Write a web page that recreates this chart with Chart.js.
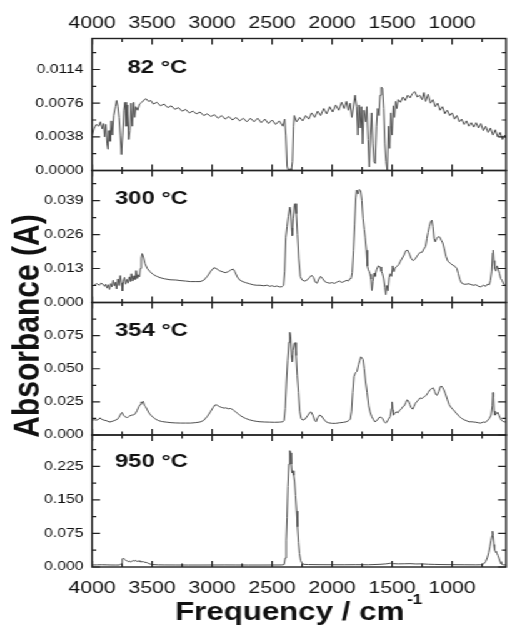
<!DOCTYPE html>
<html>
<head>
<meta charset="utf-8">
<script src="https://cdn.jsdelivr.net/npm/chart.js@4.4.1/dist/chart.umd.min.js"></script>
<style>
  html, body { margin: 0; padding: 0; background: #fff; overflow: hidden; }
  #wrap { position: absolute; left: 0; top: 0; width: 407px; height: 631px;
          transform: scaleX(1.25); transform-origin: 0 0; }
  #wrap canvas { position: absolute; left: 0; top: 0; }
</style>
</head>
<body>
<div id="wrap">
  <canvas id="p1" width="407" height="631"></canvas>
  <canvas id="p2" width="407" height="631"></canvas>
  <canvas id="p3" width="407" height="631"></canvas>
  <canvas id="p4" width="407" height="631"></canvas>
</div>
<script>
// ---- data (wavenumber cm-1, absorbance) ----
const panelLabels = ["82 °C", "300 °C", "354 °C", "950 °C"];
const xTicks = [4000, 3500, 3000, 2500, 2000, 1500, 1000];
const xMinor = [3750, 3250, 2750, 2250, 1750, 1250, 750];

const yTicks82 = [0, 0.0038, 0.0076, 0.0114];
const yTicks300 = [0, 0.013, 0.026, 0.039];
const yTicks354 = [0, 0.025, 0.050, 0.075];
const yTicks950 = [0, 0.075, 0.150, 0.225];

const s82 = [
  [4000,0.0040],[3985,0.0047],[3965,0.0052],[3945,0.0050],[3930,0.0055],[3915,0.0047],[3905,0.0053],
  [3895,0.0038],[3885,0.0052],[3875,0.0030],[3867,0.0024],[3860,0.0045],[3850,0.0033],[3840,0.0056],
  [3830,0.0040],[3820,0.0062],[3805,0.0072],[3795,0.0079],[3785,0.0072],[3775,0.0060],[3765,0.0040],
  [3755,0.0018],[3745,0.0040],[3735,0.0068],[3725,0.0077],[3715,0.0050],[3705,0.0074],[3695,0.0035],
  [3685,0.0045],[3675,0.0076],[3665,0.0050],[3655,0.0077],[3645,0.0060],[3635,0.0072],[3620,0.0068],
  [3605,0.0075],[3585,0.0077],[3565,0.0080],[3550,0.0081],[3530,0.0078],[3510,0.0079],[3490,0.0075],
  [3460,0.0077],[3430,0.0073],[3400,0.0075],[3370,0.0071],[3340,0.0073],[3310,0.0069],[3280,0.0071],
  [3250,0.0067],[3220,0.0069],[3190,0.0065],[3160,0.0067],[3130,0.0064],[3100,0.0066],[3070,0.0062],
  [3040,0.0064],[3010,0.0061],[2980,0.0063],[2950,0.0059],[2920,0.0062],[2890,0.0058],[2860,0.0061],
  [2830,0.0057],[2800,0.0060],[2770,0.0056],[2740,0.0059],[2710,0.0055],[2680,0.0059],[2650,0.0055],
  [2620,0.0059],[2590,0.0054],[2560,0.0058],[2530,0.0053],[2500,0.0057],[2470,0.0052],[2440,0.0056],
  [2410,0.0050],[2395,0.0058],[2385,0.0040],[2375,0.0005],[2365,0.0000],[2350,0.0002],[2340,0.0000],
  [2330,0.0010],[2322,0.0050],[2315,0.0062],[2295,0.0055],[2270,0.0060],[2245,0.0056],[2220,0.0062],
  [2195,0.0058],[2170,0.0065],[2145,0.0060],[2120,0.0067],[2095,0.0062],[2070,0.0070],[2045,0.0064],
  [2020,0.0072],[1995,0.0066],[1970,0.0074],[1945,0.0068],[1920,0.0077],[1900,0.0070],[1880,0.0078],
  [1865,0.0068],[1850,0.0076],[1835,0.0060],[1820,0.0075],[1808,0.0085],[1795,0.0072],[1785,0.0040],
  [1775,0.0074],[1765,0.0048],[1755,0.0072],[1745,0.0030],[1735,0.0068],[1720,0.0055],[1710,0.0072],
  [1700,0.0035],[1690,0.0004],[1680,0.0040],[1670,0.0065],[1660,0.0030],[1650,0.0010],[1640,0.0008],
  [1630,0.0050],[1620,0.0070],[1610,0.0062],[1600,0.0085],[1590,0.0094],[1580,0.0093],[1570,0.0070],
  [1560,0.0030],[1550,0.0010],[1540,0.0000],[1530,0.0050],[1520,0.0025],[1510,0.0065],[1500,0.0040],
  [1490,0.0073],[1480,0.0060],[1470,0.0078],[1460,0.0070],[1450,0.0080],[1430,0.0077],[1410,0.0083],
  [1390,0.0079],[1370,0.0085],[1350,0.0082],[1330,0.0087],[1310,0.0089],[1290,0.0083],[1270,0.0085],
  [1250,0.0080],[1235,0.0088],[1220,0.0078],[1200,0.0086],[1180,0.0076],[1160,0.0080],[1140,0.0072],
  [1120,0.0076],[1100,0.0068],[1080,0.0072],[1060,0.0064],[1040,0.0068],[1020,0.0062],[1000,0.0065],
  [980,0.0058],[960,0.0062],[940,0.0055],[920,0.0058],[900,0.0052],[880,0.0056],[860,0.0050],
  [840,0.0054],[820,0.0049],[800,0.0054],[780,0.0048],[760,0.0053],[740,0.0045],[720,0.0050],
  [700,0.0043],[680,0.0048],[660,0.0040],[640,0.0046],[620,0.0038],[600,0.0043],[580,0.0035],
  [560,0.0040],[550,0.0036]
];

const s300 = [
  [4000,0.0062],[3980,0.0068],[3960,0.0072],[3940,0.0066],[3925,0.0074],[3910,0.0070],[3895,0.0062],
  [3885,0.0070],[3875,0.0055],[3865,0.0068],[3855,0.0050],[3845,0.0072],[3835,0.0060],[3825,0.0085],
  [3815,0.0064],[3805,0.0078],[3795,0.0052],[3785,0.0090],[3775,0.0065],[3765,0.0103],[3755,0.0075],
  [3748,0.0044],[3740,0.0080],[3730,0.0096],[3720,0.0070],[3710,0.0088],[3700,0.0074],[3690,0.0098],
  [3680,0.0080],[3672,0.0110],[3662,0.0082],[3652,0.0102],[3642,0.0088],[3633,0.0122],[3623,0.0092],
  [3613,0.0106],[3605,0.0098],[3598,0.0130],[3590,0.0170],[3583,0.0187],[3575,0.0178],[3560,0.0150],
  [3540,0.0130],[3517,0.0118],[3490,0.0107],[3460,0.0100],[3433,0.0095],[3400,0.0091],[3350,0.0087],
  [3300,0.0086],[3267,0.0084],[3220,0.0082],[3180,0.0080],[3140,0.0080],[3100,0.0080],[3070,0.0085],
  [3040,0.0100],[3010,0.0120],[2985,0.0133],[2965,0.0130],[2940,0.0122],[2910,0.0117],[2890,0.0114],
  [2865,0.0118],[2845,0.0124],[2825,0.0128],[2810,0.0118],[2790,0.0098],[2770,0.0086],[2745,0.0080],
  [2720,0.0076],[2690,0.0072],[2660,0.0068],[2630,0.0066],[2600,0.0066],[2570,0.0064],[2540,0.0066],
  [2520,0.0062],[2500,0.0064],[2480,0.0061],[2460,0.0063],[2440,0.0060],[2420,0.0060],[2405,0.0065],
  [2395,0.0120],[2385,0.0250],[2375,0.0290],[2365,0.0330],[2352,0.0365],[2345,0.0350],[2337,0.0285],
  [2332,0.0256],[2325,0.0320],[2315,0.0370],[2308,0.0378],[2298,0.0340],[2288,0.0260],[2278,0.0170],
  [2265,0.0100],[2250,0.0086],[2230,0.0082],[2210,0.0085],[2190,0.0095],[2170,0.0104],[2155,0.0096],
  [2140,0.0078],[2125,0.0074],[2110,0.0090],[2095,0.0100],[2080,0.0092],[2060,0.0080],[2040,0.0076],
  [2020,0.0074],[2000,0.0076],[1980,0.0073],[1960,0.0078],[1940,0.0082],[1920,0.0077],[1900,0.0080],
  [1880,0.0085],[1865,0.0082],[1850,0.0092],[1840,0.0095],[1832,0.0115],[1822,0.0200],[1812,0.0300],
  [1802,0.0400],[1795,0.0430],[1785,0.0415],[1775,0.0432],[1762,0.0428],[1752,0.0390],[1742,0.0320],
  [1732,0.0280],[1724,0.0250],[1714,0.0200],[1706,0.0140],[1698,0.0125],[1690,0.0118],[1683,0.0108],
  [1675,0.0090],[1668,0.0046],[1660,0.0080],[1650,0.0112],[1642,0.0100],[1630,0.0125],[1615,0.0140],
  [1600,0.0136],[1590,0.0120],[1580,0.0110],[1570,0.0090],[1560,0.0058],[1552,0.0030],[1545,0.0065],
  [1535,0.0045],[1525,0.0095],[1515,0.0110],[1505,0.0100],[1495,0.0140],[1485,0.0118],[1475,0.0132],
  [1460,0.0138],[1445,0.0145],[1430,0.0158],[1415,0.0170],[1400,0.0182],[1385,0.0198],[1370,0.0200],
  [1355,0.0185],[1340,0.0168],[1325,0.0160],[1310,0.0165],[1295,0.0175],[1280,0.0185],[1265,0.0192],
  [1250,0.0192],[1235,0.0205],[1220,0.0215],[1210,0.0245],[1200,0.0268],[1190,0.0290],[1178,0.0310],
  [1168,0.0315],[1160,0.0290],[1150,0.0245],[1140,0.0232],[1128,0.0245],[1115,0.0252],[1102,0.0250],
  [1090,0.0238],[1078,0.0228],[1065,0.0205],[1050,0.0175],[1035,0.0158],[1015,0.0150],[995,0.0143],
  [975,0.0138],[960,0.0130],[948,0.0110],[935,0.0088],[920,0.0074],[900,0.0070],[880,0.0070],
  [860,0.0072],[840,0.0068],[820,0.0066],[800,0.0068],[780,0.0062],[760,0.0060],[740,0.0066],
  [720,0.0062],[705,0.0070],[690,0.0068],[680,0.0085],[670,0.0120],[662,0.0190],[658,0.0200],
  [652,0.0160],[645,0.0130],[635,0.0120],[625,0.0140],[615,0.0126],[605,0.0110],[595,0.0092],
  [583,0.0084],[570,0.0070],[555,0.0064]
];

const s354 = [
  [4000,0.0110],[3985,0.0116],[3965,0.0112],[3945,0.0118],[3933,0.0130],[3920,0.0118],[3900,0.0112],
  [3880,0.0108],[3860,0.0100],[3850,0.0098],[3830,0.0104],[3810,0.0110],[3790,0.0118],[3775,0.0135],
  [3760,0.0160],[3750,0.0170],[3740,0.0150],[3725,0.0138],[3710,0.0132],[3700,0.0135],[3685,0.0145],
  [3670,0.0150],[3655,0.0152],[3640,0.0160],[3625,0.0185],[3610,0.0215],[3598,0.0230],[3590,0.0250],
  [3583,0.0240],[3575,0.0255],[3565,0.0225],[3555,0.0215],[3540,0.0190],[3525,0.0165],[3505,0.0145],
  [3480,0.0125],[3450,0.0110],[3420,0.0102],[3380,0.0097],[3340,0.0093],[3300,0.0091],[3260,0.0090],
  [3220,0.0090],[3180,0.0090],[3140,0.0093],[3100,0.0098],[3070,0.0110],[3040,0.0140],[3010,0.0180],
  [2990,0.0210],[2975,0.0227],[2960,0.0226],[2940,0.0215],[2920,0.0208],[2900,0.0203],[2885,0.0205],
  [2865,0.0198],[2845,0.0200],[2825,0.0190],[2810,0.0180],[2790,0.0165],[2770,0.0150],[2745,0.0136],
  [2720,0.0125],[2690,0.0115],[2660,0.0108],[2630,0.0103],[2600,0.0100],[2560,0.0098],[2520,0.0097],
  [2480,0.0096],[2440,0.0097],[2410,0.0100],[2400,0.0110],[2390,0.0200],[2380,0.0400],[2370,0.0560],
  [2360,0.0700],[2352,0.0775],[2345,0.0740],[2338,0.0600],[2333,0.0553],[2326,0.0640],[2316,0.0690],
  [2308,0.0697],[2300,0.0600],[2290,0.0450],[2280,0.0320],[2270,0.0180],[2258,0.0125],[2245,0.0112],
  [2225,0.0120],[2200,0.0150],[2185,0.0170],[2175,0.0174],[2160,0.0150],[2145,0.0110],[2133,0.0100],
  [2120,0.0130],[2105,0.0150],[2090,0.0145],[2070,0.0120],[2050,0.0100],[2030,0.0092],[2000,0.0088],
  [1970,0.0088],[1940,0.0092],[1910,0.0095],[1880,0.0100],[1860,0.0110],[1848,0.0120],[1838,0.0180],
  [1828,0.0320],[1818,0.0440],[1805,0.0470],[1792,0.0480],[1780,0.0530],[1770,0.0560],[1760,0.0590],
  [1750,0.0580],[1742,0.0570],[1732,0.0500],[1720,0.0400],[1708,0.0320],[1695,0.0220],[1683,0.0174],
  [1670,0.0140],[1655,0.0115],[1642,0.0099],[1625,0.0110],[1610,0.0130],[1595,0.0136],[1580,0.0125],
  [1565,0.0100],[1552,0.0090],[1545,0.0095],[1530,0.0120],[1515,0.0140],[1505,0.0200],[1500,0.0250],
  [1495,0.0190],[1490,0.0150],[1480,0.0160],[1465,0.0175],[1450,0.0168],[1440,0.0185],[1430,0.0190],
  [1420,0.0200],[1410,0.0215],[1398,0.0220],[1385,0.0245],[1375,0.0265],[1365,0.0260],[1352,0.0230],
  [1340,0.0205],[1328,0.0195],[1318,0.0215],[1305,0.0240],[1290,0.0255],[1275,0.0270],[1265,0.0280],
  [1250,0.0275],[1240,0.0285],[1228,0.0290],[1215,0.0300],[1200,0.0320],[1185,0.0340],[1170,0.0350],
  [1158,0.0356],[1145,0.0330],[1135,0.0305],[1125,0.0300],[1110,0.0330],[1098,0.0365],[1090,0.0370],
  [1080,0.0360],[1068,0.0340],[1055,0.0310],[1040,0.0270],[1025,0.0230],[1010,0.0210],[995,0.0195],
  [980,0.0180],[960,0.0160],[940,0.0140],[920,0.0125],[900,0.0115],[880,0.0108],[860,0.0100],
  [840,0.0100],[820,0.0098],[800,0.0096],[780,0.0092],[760,0.0090],[740,0.0098],[725,0.0095],
  [705,0.0108],[690,0.0125],[675,0.0150],[665,0.0220],[660,0.0320],[656,0.0290],[650,0.0180],
  [642,0.0150],[630,0.0160],[620,0.0172],[610,0.0150],[598,0.0125],[585,0.0108],[570,0.0100],
  [555,0.0098]
];

const s950 = [
  [4000,0.0045],[3960,0.0048],[3920,0.0050],[3880,0.0048],[3840,0.0045],[3800,0.0044],[3770,0.0045],
  [3755,0.0080],[3748,0.0180],[3740,0.0200],[3730,0.0170],[3720,0.0150],[3710,0.0140],[3700,0.0120],
  [3690,0.0135],[3680,0.0110],[3670,0.0125],[3660,0.0145],[3650,0.0130],[3640,0.0150],[3630,0.0130],
  [3620,0.0125],[3610,0.0140],[3600,0.0120],[3590,0.0115],[3575,0.0120],[3560,0.0105],[3545,0.0100],
  [3530,0.0080],[3515,0.0065],[3500,0.0055],[3450,0.0048],[3400,0.0046],[3300,0.0045],[3200,0.0044],
  [3100,0.0044],[3000,0.0045],[2900,0.0046],[2800,0.0045],[2700,0.0044],[2600,0.0044],[2500,0.0045],
  [2420,0.0046],[2400,0.0055],[2390,0.0200],[2382,0.0600],[2375,0.1100],[2368,0.1800],[2360,0.2300],
  [2352,0.2600],[2346,0.2550],[2340,0.2300],[2334,0.2100],[2328,0.2150],[2320,0.2050],[2312,0.1900],
  [2304,0.1600],[2296,0.1250],[2288,0.0900],[2280,0.0550],[2272,0.0300],[2262,0.0150],[2250,0.0080],
  [2235,0.0060],[2200,0.0055],[2100,0.0052],[2000,0.0050],[1900,0.0050],[1800,0.0052],[1700,0.0050],
  [1600,0.0060],[1550,0.0070],[1510,0.0085],[1490,0.0075],[1450,0.0070],[1400,0.0072],[1350,0.0075],
  [1300,0.0068],[1250,0.0070],[1200,0.0062],[1150,0.0058],[1100,0.0055],[1000,0.0052],[900,0.0050],
  [800,0.0048],[760,0.0050],[740,0.0065],[720,0.0120],[705,0.0220],[695,0.0320],[685,0.0450],
  [675,0.0600],[668,0.0700],[663,0.0800],[658,0.0700],[652,0.0500],[646,0.0380],[640,0.0350],
  [632,0.0320],[625,0.0300],[618,0.0260],[610,0.0200],[600,0.0120],[590,0.0070],[575,0.0050],
  [555,0.0045]
];

// ---- layout (unscaled canvas units; the wrapper is stretched 1.25x horizontally) ----
const W = 407, H = 631;
const PLOT_LEFT = 73.6, PLOT_RIGHT = 404.8;
const bounds = [38.5, 170.5, 302.5, 435, 567];
const FRAME = "#222";
const LINE = "#4d4d4d";
const FONT = "'Liberation Sans', Arial, sans-serif";

const framePlugin = {
  id: "frame",
  afterDatasetsDraw(chart, args, opts) {
    const { ctx, chartArea: a, scales } = chart;
    ctx.save();
    ctx.strokeStyle = FRAME;
    ctx.lineWidth = 1.4;
    ctx.strokeRect(a.left, a.top, a.right - a.left, a.bottom - a.top);
    ctx.lineWidth = 1.2;
    ctx.beginPath();
    const xt = (vals, len) => vals.forEach(v => {
      const px = scales.x.getPixelForValue(v);
      ctx.moveTo(px, a.top); ctx.lineTo(px, a.top + len);
      ctx.moveTo(px, a.bottom); ctx.lineTo(px, a.bottom - len);
    });
    const yt = (vals, len) => vals.forEach(v => {
      const py = scales.y.getPixelForValue(v);
      ctx.moveTo(a.left, py); ctx.lineTo(a.left + len, py);
      ctx.moveTo(a.right, py); ctx.lineTo(a.right - len, py);
    });
    xt(xTicks, 6);
    xt(xMinor, 3.5);
    yt(opts.major, 6.4);
    yt(opts.minor, 3.4);
    ctx.stroke();
    ctx.restore();
  }
};

// frequency tick labels (top and bottom), panel labels and axis titles
const textPlugin = {
  id: "texts",
  afterDraw(chart) {
    const { ctx, scales } = chart;
    ctx.save();
    ctx.fillStyle = "#111";
    ctx.textBaseline = "alphabetic";

    ctx.textAlign = "center";
    ctx.font = "17px " + FONT;
    xTicks.forEach(v => {
      const px = scales.x.getPixelForValue(v);
      ctx.fillText(String(v), px, 28);
      ctx.fillText(String(v), px, 593);
    });

    ctx.textAlign = "left";
    ctx.font = "bold 19px " + FONT;
    ctx.fillText(panelLabels[0], 102, 73);
    ctx.fillText(panelLabels[1], 92, 204);
    ctx.fillText(panelLabels[2], 92, 336);
    ctx.fillText(panelLabels[3], 92, 467);

    ctx.font = "bold 25px " + FONT;
    const t = "Frequency / cm";
    ctx.fillText(t, 140, 620);
    const w = ctx.measureText(t).width;
    ctx.font = "bold 14px " + FONT;
    ctx.fillText("-1", 140 + w + 2, 604);

    ctx.translate(31, 326);
    ctx.rotate(-Math.PI / 2);
    ctx.textAlign = "center";
    ctx.font = "bold 30px " + FONT;
    ctx.fillText("Absorbance (A)", 0, 0);
    ctx.restore();
  }
};

function minorOf(ticks, yMax) {
  const step = ticks[1] - ticks[0];
  const out = [];
  for (let v = step / 2; v < yMax; v += step) out.push(v);
  return out;
}

function makePanel(id, i, series, yMax, yTicks, dec, withTexts) {
  const top = bounds[i], bottom = bounds[i + 1];
  return new Chart(document.getElementById(id), {
    type: "line",
    data: {
      datasets: [{
        data: series.map(([x, y]) => ({ x, y })),
        borderColor: LINE,
        borderWidth: 1,
        pointRadius: 0,
        tension: 0,
        fill: false
      }]
    },
    options: {
      responsive: false,
      animation: false,
      events: [],
      layout: { padding: { top: top, bottom: H - bottom, left: 0, right: W - PLOT_RIGHT } },
      plugins: {
        legend: { display: false },
        tooltip: { enabled: false },
        frame: { major: yTicks, minor: minorOf(yTicks, yMax) }
      },
      scales: {
        x: {
          type: "linear",
          reverse: true,
          min: 550,
          max: 4000,
          grid: { display: false, drawTicks: false },
          border: { display: false },
          ticks: { display: false },
          afterFit: s => { s.height = 0; }
        },
        y: {
          min: 0,
          max: yMax,
          grid: { display: false, drawTicks: false },
          border: { display: false },
          afterBuildTicks: s => { s.ticks = yTicks.map(v => ({ value: v })); },
          afterFit: s => { s.width = PLOT_LEFT; },
          ticks: {
            color: "#111",
            padding: 7,
            autoSkip: false,
            font: { family: FONT, size: 12.5 },
            callback: v => Number(v).toFixed(dec)
          }
        }
      }
    },
    plugins: withTexts ? [framePlugin, textPlugin] : [framePlugin]
  });
}

makePanel("p1", 0, s82, 0.0149, yTicks82, 4, false);
makePanel("p2", 1, s300, 0.0505, yTicks300, 3, false);
makePanel("p3", 2, s354, 0.1, yTicks354, 3, false);
makePanel("p4", 3, s950, 0.295, yTicks950, 3, true);
</script>
</body>
</html>
